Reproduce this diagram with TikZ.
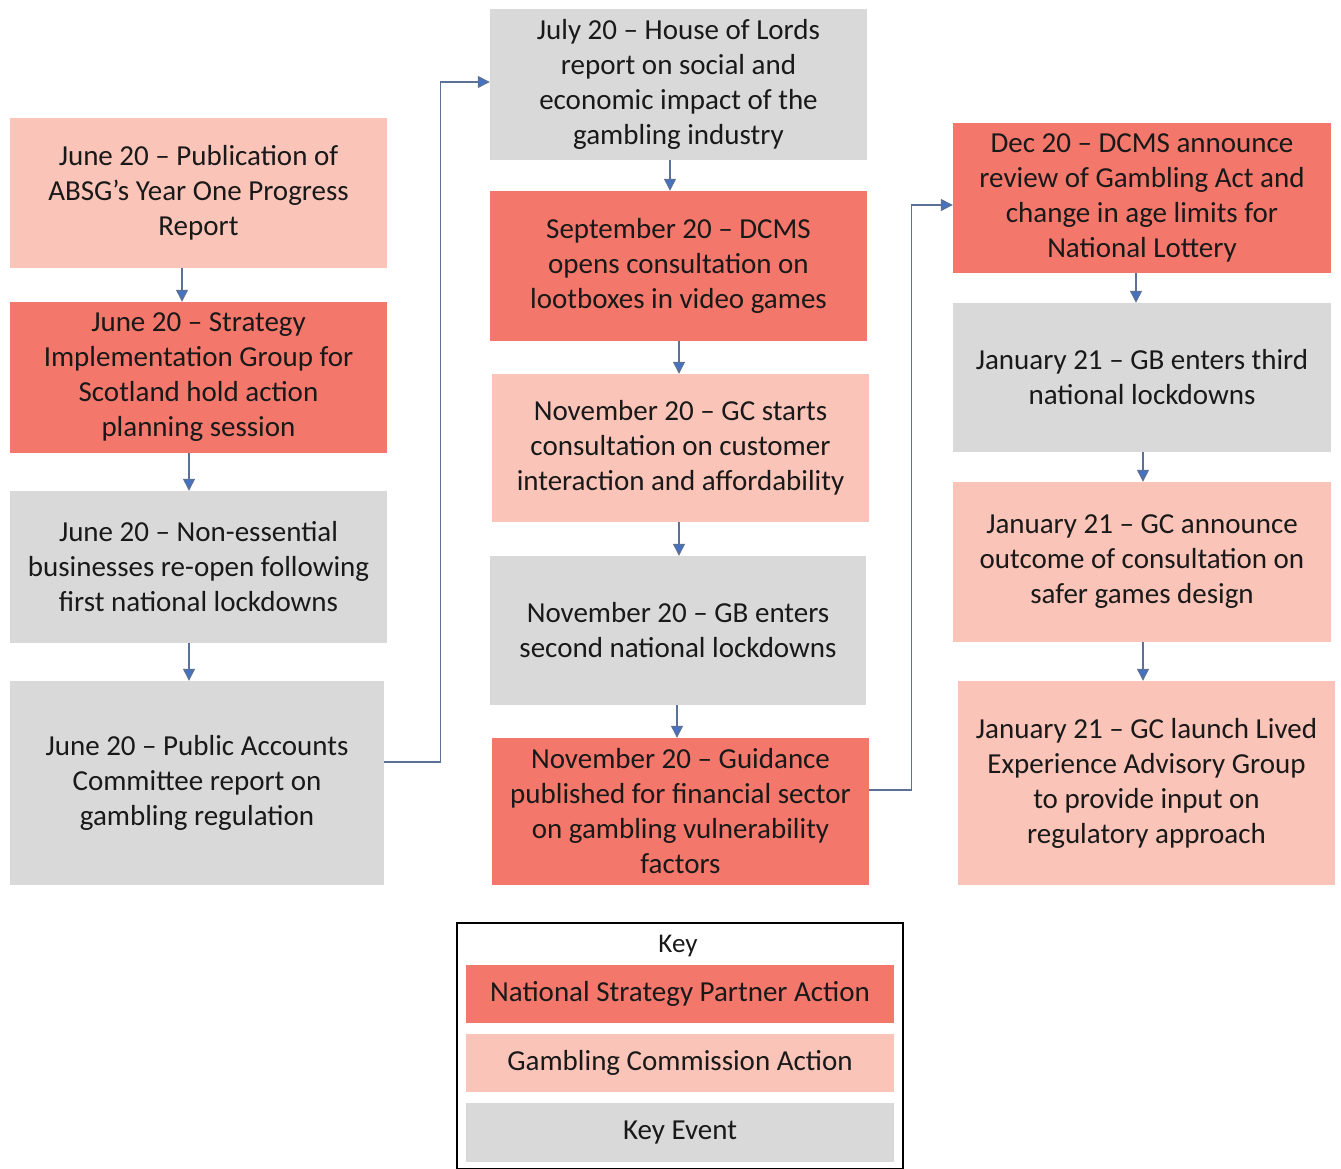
\documentclass[tikz,border=0pt]{standalone}
\usepackage{fontspec}
\setmainfont{Carlito}
\usetikzlibrary{positioning,calc,arrows.meta}
\definecolor{natred}{HTML}{F4776B}
\definecolor{gcpink}{HTML}{FAC4B8}
\definecolor{evgrey}{HTML}{D9D9D9}
\definecolor{arrowblue}{HTML}{4472C4}
\definecolor{linkgrey}{HTML}{5B7195}
\tikzset{>=stealth}
\tikzset{
  stage/.style={minimum width=377pt,minimum height=150pt,inner sep=0pt,align=center,
    text=black!90,font=\fontsize{29}{35}\selectfont},
  natbox/.style={stage,fill=natred},
  gcbox/.style={stage,fill=gcpink},
  evbox/.style={stage,fill=evgrey},
  flow/.style={draw=linkgrey,line width=1.3pt,-{Triangle[length=12pt,width=12pt,fill=arrowblue]}},
}

\begin{document}
\begin{tikzpicture}[x=1pt,y=-1pt]
\useasboundingbox (0,0) rectangle (1341,1169);
% left column
\node[gcbox] (a1) at (198.5,193) {June 20 -- Publication of\\ABSG’s Year One Progress\\Report};
\node[natbox,minimum height=151pt] (a2) at (198.5,377.5) {June 20 -- Strategy\\Implementation Group for\\Scotland hold action\\planning session};
\node[evbox,minimum height=152pt] (a3) at (198.5,567) {June 20 -- Non-essential\\businesses re-open following\\first national lockdowns};
\node[evbox,minimum width=374pt,minimum height=204pt] (a4) at (197,783) {June 20 -- Public Accounts\\Committee report on\\gambling regulation};
% middle column
\node[evbox,minimum height=151pt] (b1) at (678.5,84.5) {July 20 -- House of Lords\\report on social and\\economic impact of the\\gambling industry};
\node[natbox] (b2) at (678.5,266) {September 20 -- DCMS\\opens consultation on\\lootboxes in video games};
\node[gcbox,minimum height=148pt] (b3) at (680.5,448) {November 20 -- GC starts\\consultation on customer\\interaction and affordability};
\node[evbox,minimum width=376pt,minimum height=149pt] (b4) at (678,630.5) {November 20 -- GB enters\\second national lockdowns};
\node[natbox,minimum height=147pt] (b5) at (680.5,811.5) {November 20 -- Guidance\\published for financial sector\\on gambling vulnerability\\factors};
% right column
\node[natbox,minimum width=378pt] (c1) at (1142,198) {Dec 20 -- DCMS announce\\review of Gambling Act and\\change in age limits for\\National Lottery};
\node[evbox,minimum width=378pt,minimum height=149pt] (c2) at (1142,377.5) {January 21 -- GB enters third\\national lockdowns};
\node[gcbox,minimum width=378pt,minimum height=160pt] (c3) at (1142,562) {January 21 -- GC announce\\outcome of consultation on\\safer games design};
\node[gcbox,minimum height=204pt] (c4) at (1146.5,783) {January 21 -- GC launch Lived\\Experience Advisory Group\\to provide input on\\regulatory approach};
% arrows down the columns
\draw[flow] ([xshift=-16.5pt]a1.south) -- ([xshift=-16.5pt]a2.north);
\draw[flow] ([xshift=-9.5pt]a2.south) -- ([xshift=-9.5pt]a3.north);
\draw[flow] ([xshift=-9.5pt]a3.south) -- ([xshift=-9.5pt]a3.south |- a4.north);
\draw[flow] ([xshift=-8.5pt]b1.south) -- ([xshift=-8.5pt]b2.north);
\draw[flow] ([xshift=.5pt]b2.south) -- ([xshift=.5pt]b2.south |- b3.north);
\draw[flow] ([xshift=-1.5pt]b3.south) -- ([xshift=-1.5pt]b3.south |- b4.north);
\draw[flow] ([xshift=-1pt]b4.south) -- ([xshift=-1pt]b4.south |- b5.north);
\draw[flow] ([xshift=-6pt]c1.south) -- ([xshift=-6pt]c2.north);
\draw[flow] ([xshift=1pt]c2.south) -- ([xshift=1pt]c3.north);
\draw[flow] ([xshift=1pt]c3.south) -- ([xshift=-3.5pt]c4.north);
% links between columns
\draw[flow] ([yshift=21pt]a4.east) -- ++(56,0) |- ([yshift=2.5pt]b1.west);
\draw[flow] ([yshift=21.5pt]b5.east) -- ++(42,0) |- ([yshift=-7pt]c1.west);
% key
\node[draw,line width=2.5pt,minimum width=446pt,minimum height=246pt] (keyframe) at (680,1046) {};
\node[font=\fontsize{27}{30}\selectfont,text=black!90] (keytitle) at (678,946) {Key};
\node[natbox,minimum width=428pt,minimum height=58pt] (keynat) at (680,994) {National Strategy Partner Action};
\node[gcbox,minimum width=428pt,minimum height=58pt] (keygc) at (680,1063) {Gambling Commission Action};
\node[evbox,minimum width=428pt,minimum height=59pt] (keyev) at (680,1132.5) {Key Event};
\end{tikzpicture}
\end{document}
